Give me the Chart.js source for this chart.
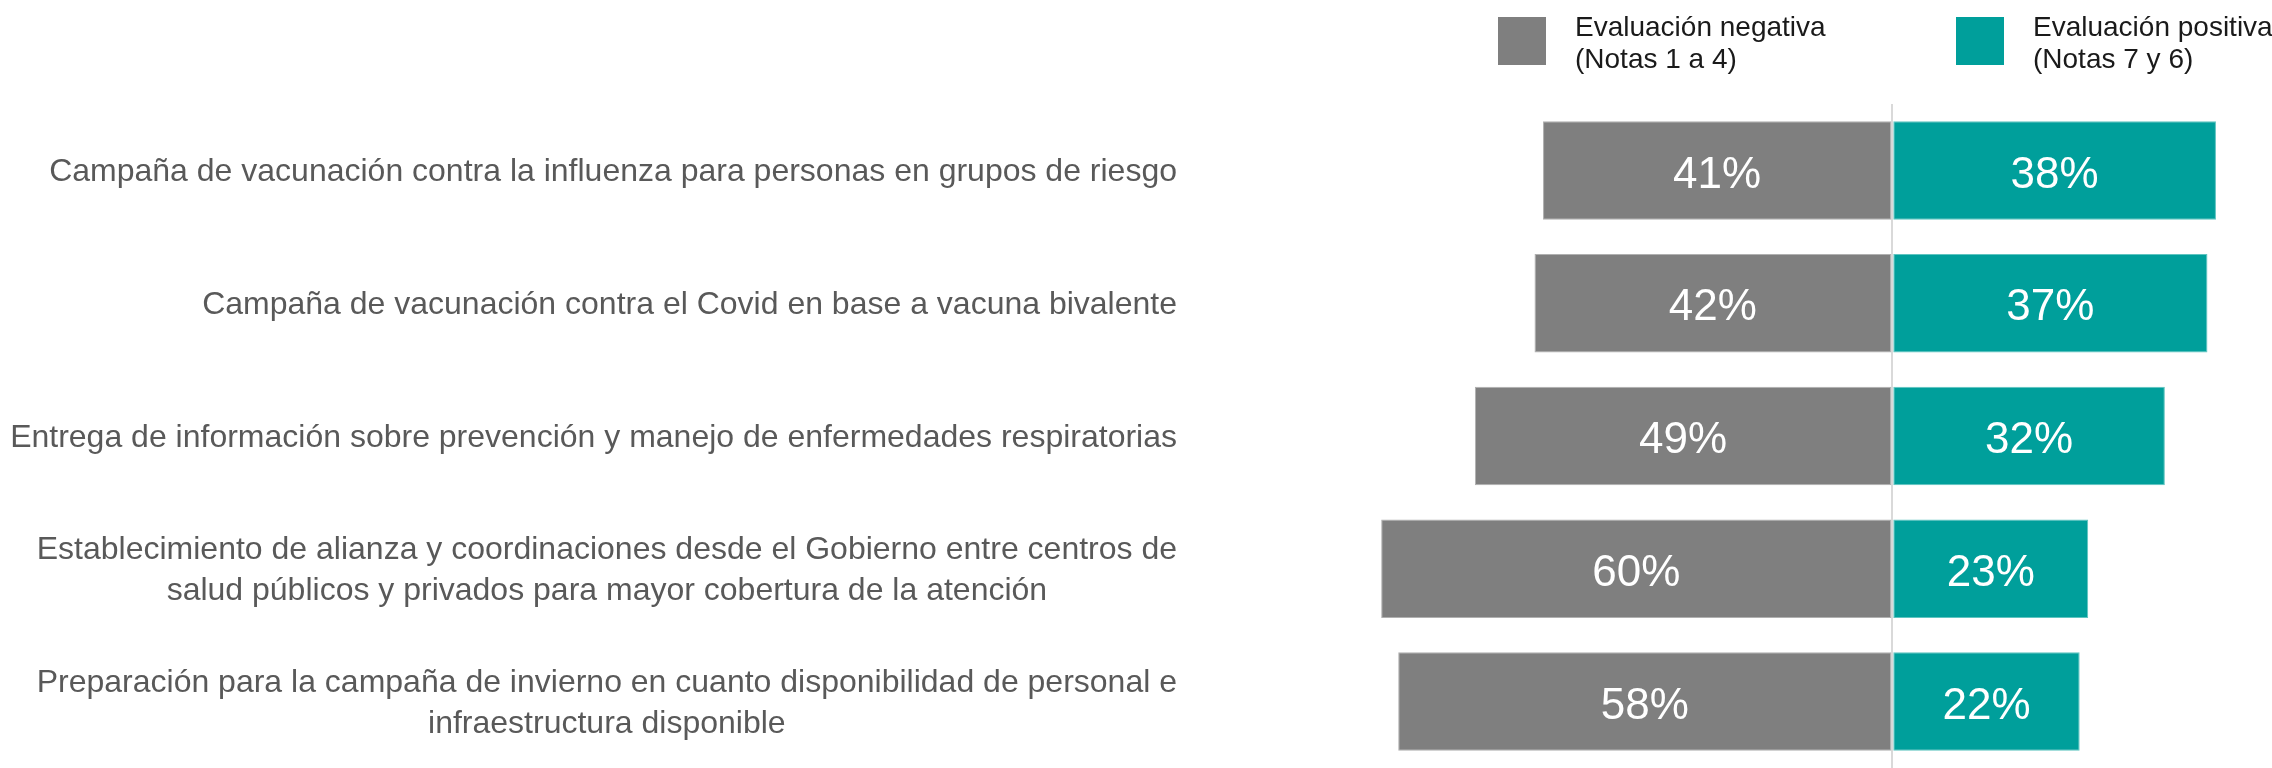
<!DOCTYPE html>
<html>
<head>
<meta charset="utf-8">
<script src="https://cdn.jsdelivr.net/npm/chart.js@4.4.1/dist/chart.umd.min.js"></script>
<style>
  html, body { margin: 0; padding: 0; background: #fff; }
  #wrap { position: relative; width: 2272px; height: 768px; overflow: hidden; }
  #legend { position: absolute; top: 0; left: 0; width: 2272px; height: 100px; font-family: "Liberation Sans", Arial, sans-serif; }
  .item { position: absolute; top: 17px; }
  .box { position: absolute; left: 0; top: 0; width: 48px; height: 48px; }
  .txt { position: absolute; left: 77px; top: -6px; font-size: 28px; line-height: 32px; color: #1a1a1a; white-space: nowrap; }
</style>
</head>
<body>
<div id="wrap">
  <canvas id="chart" width="2272" height="768"></canvas>
  <div id="legend"></div>
</div>
<script>
const categories = [
  ["Campaña de vacunación contra la influenza para personas en grupos de riesgo"],
  ["Campaña de vacunación contra el Covid en base a vacuna bivalente"],
  ["Entrega de información sobre prevención y manejo de enfermedades respiratorias"],
  ["Establecimiento de alianza y coordinaciones desde el Gobierno entre centros de", "salud públicos y privados para mayor cobertura de la atención"],
  ["Preparación para la campaña de invierno en cuanto disponibilidad de personal e", "infraestructura disponible"]
];
const negativeValues = [41, 42, 49, 60, 58];
const positiveValues = [38, 37, 32, 23, 22];
const seriesLabels = [["Evaluación negativa", "(Notas 1 a 4)"], ["Evaluación positiva", "(Notas 7 y 6)"]];
const seriesColors = ["#7f7f7f", "#009f9b"];

const FONT = '"Liberation Sans", Arial, sans-serif';

// legend in html, two lines per item
const legendLeft = [1498, 1956];
const legend = document.getElementById("legend");
seriesLabels.forEach((lines, i) => {
  const it = document.createElement("div");
  it.className = "item";
  it.style.left = legendLeft[i] + "px";
  it.innerHTML = `<div class="box" style="background:${seriesColors[i]}"></div>
    <div class="txt">${lines.join("<br>")}</div>`;
  legend.appendChild(it);
});

// category labels, right block edge fixed, lines centred inside the block
const categoryLabels = {
  id: "categoryLabels",
  afterDraw(chart) {
    const { ctx } = chart;
    const y = chart.scales.y;
    const rightEdge = 1177;
    const lineH = 41;
    ctx.save();
    ctx.font = "32px " + FONT;
    ctx.fillStyle = "#595959";
    ctx.textAlign = "center";
    ctx.textBaseline = "middle";
    categories.forEach((lines, i) => {
      const widest = Math.max(...lines.map(l => ctx.measureText(l).width));
      const cx = rightEdge - widest / 2;
      const cy = y.getPixelForValue(i) + 2;
      lines.forEach((l, j) => {
        ctx.fillText(l, cx, cy + (j - (lines.length - 1) / 2) * lineH);
      });
    });
    ctx.restore();
  }
};

const valueLabels = {
  id: "valueLabels",
  afterDatasetsDraw(chart) {
    const { ctx } = chart;
    ctx.save();
    ctx.font = "44px " + FONT;
    ctx.fillStyle = "#fff";
    ctx.textAlign = "center";
    ctx.textBaseline = "middle";
    chart.data.datasets.forEach((ds, di) => {
      chart.getDatasetMeta(di).data.forEach((bar, i) => {
        const p = bar.getCenterPoint();
        ctx.fillText(Math.abs(ds.data[i]) + "%", p.x, p.y + 5);
      });
    });
    ctx.restore();
  }
};

new Chart(document.getElementById("chart"), {
  type: "bar",
  data: {
    labels: categories,
    datasets: [
      {
        label: seriesLabels[0].join(" "),
        data: negativeValues.map(v => -v),
        backgroundColor: seriesColors[0],
        borderColor: "#b0b0b0",
        borderWidth: 1,
        borderSkipped: false
      },
      {
        label: seriesLabels[1].join(" "),
        data: positiveValues,
        backgroundColor: seriesColors[1],
        borderColor: "#5fc4c0",
        borderWidth: 1,
        borderSkipped: false
      }
    ]
  },
  options: {
    indexAxis: "y",
    responsive: false,
    animation: false,
    layout: { padding: { top: 104, right: 39, bottom: 0, left: 0 } },
    plugins: { legend: { display: false }, tooltip: { enabled: false } },
    datasets: { bar: { categoryPercentage: 1, barPercentage: 0.742 } },
    scales: {
      x: {
        stacked: true,
        min: -70,
        max: 40,
        z: 1,
        border: { display: false },
        ticks: { display: false, stepSize: 10 },
        grid: {
          drawTicks: false,
          lineWidth: 2,
          color: c => (c.tick && c.tick.value === 0 ? "#d9d9d9" : "rgba(0,0,0,0)")
        }
      },
      y: {
        stacked: true,
        border: { display: false },
        grid: { display: false },
        ticks: { display: false },
        afterFit: s => { s.width = 1296; }
      }
    }
  },
  plugins: [categoryLabels, valueLabels]
});
</script>
</body>
</html>
